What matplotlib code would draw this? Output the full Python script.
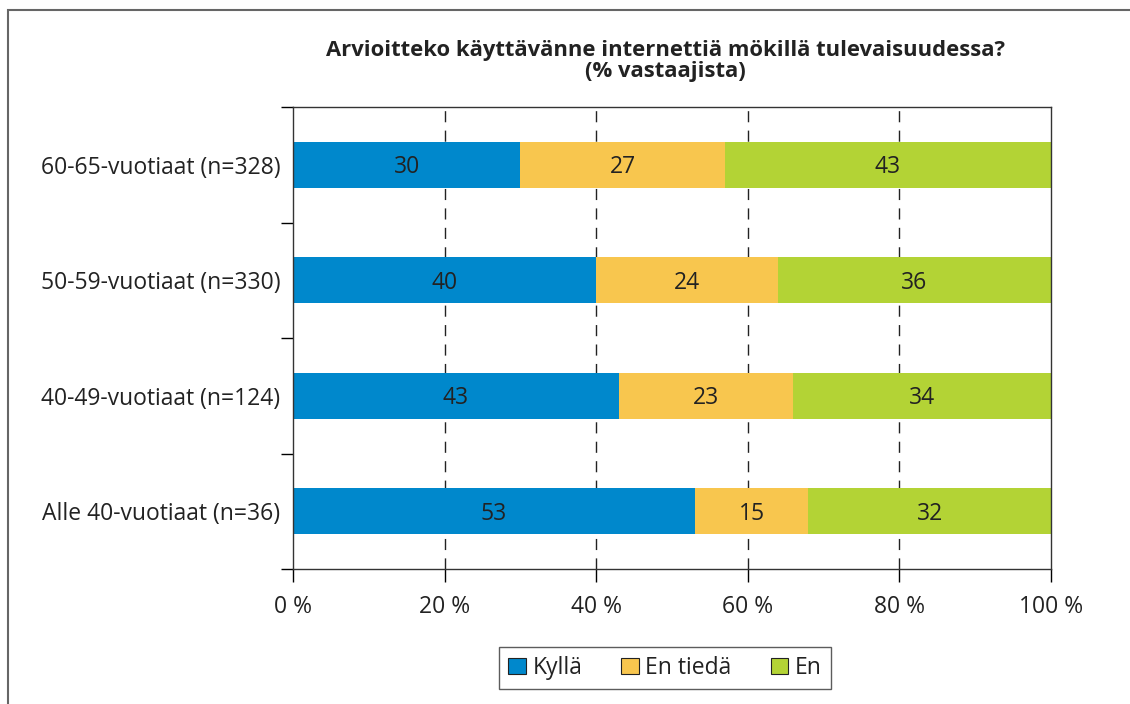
"""Stacked bar chart: internet use at the cottage by age group."""

import matplotlib
matplotlib.use('Agg')
import matplotlib.pyplot as plt
from matplotlib.patches import Rectangle

# Data
groups = ['Alle 40-vuotiaat (n=36)', '40-49-vuotiaat (n=124)',
          '50-59-vuotiaat (n=330)', '60-65-vuotiaat (n=328)']
kylla = [53, 43, 40, 30]
en_tieda = [15, 23, 24, 27]
en = [32, 34, 36, 43]
series = [('Kyllä', kylla, '#0088cc'),
          ('En tiedä', en_tieda, '#f8c64e'),
          ('En', en, '#b3d335')]
x_ticks = [0, 20, 40, 60, 80, 100]
title = 'Arvioitteko käyttävänne internettiä mökillä tulevaisuudessa?\n(% vastaajista)'

plt.rcParams['font.family'] = ['Open Sans', 'DejaVu Sans']
text_color = '#222222'
fs = 16.5


def main():
    fig = plt.figure(figsize=(11.3, 7.04), dpi=100)
    ax = fig.add_axes([293 / 1130, 1 - 569 / 704,
                       (1051 - 293) / 1130, (569 - 107) / 704])

    # Bars
    ypos = list(range(len(groups)))
    left = [0] * len(groups)
    for name, vals, color in series:
        bars = ax.barh(ypos, vals, left=left, height=0.4, color=color,
                       label=name, zorder=2)
        for bar, v in zip(bars, vals):
            ax.text(bar.get_x() + bar.get_width() / 2,
                    bar.get_y() + bar.get_height() / 2 - 0.02, str(v),
                    ha='center', va='center', fontsize=fs,
                    color=text_color, zorder=3)
        left = [a + b for a, b in zip(left, vals)]

    # Axes
    ax.set_xlim(0, 100)
    ax.set_ylim(-0.5, len(groups) - 0.5)
    ax.set_xticks(x_ticks)
    ax.set_xticklabels([f'{t} %' for t in x_ticks], fontsize=fs,
                       color=text_color)
    ax.set_yticks(ypos)
    ax.set_yticklabels(groups, fontsize=fs, color=text_color)
    ax.set_yticks([y - 0.5 for y in range(len(groups) + 1)], minor=True)
    ax.tick_params(axis='y', which='major', length=0, pad=9)
    ax.tick_params(axis='y', which='minor', length=9, width=1,
                   direction='out')
    ax.tick_params(axis='x', length=9, width=1, direction='out', pad=10)
    for g in x_ticks[1:-1]:
        ax.axvline(g, color='#222222', lw=1, ls=(0, (8, 6)), zorder=1)
    for spine in ax.spines.values():
        spine.set_color('#333333')
        spine.set_linewidth(1)

    # Title
    fig.text(665 / 1130, 1 - 61 / 704, title, ha='center', va='center',
             fontsize=15.8, fontweight='bold', color=text_color,
             linespacing=1.05)

    # Legend
    leg = fig.legend(loc='center', bbox_to_anchor=(665 / 1130, 1 - 668 / 704),
                     ncol=3, fontsize=fs, frameon=True, fancybox=False,
                     handlelength=0.75, handleheight=0.75, handletextpad=0.3,
                     columnspacing=1.7, borderpad=0.4)
    leg.get_frame().set_edgecolor('#333333')
    leg.get_frame().set_linewidth(1)
    for h in leg.legend_handles:
        h.set_edgecolor('#222222')
        h.set_linewidth(0.8)
    for t in leg.get_texts():
        t.set_color(text_color)

    # Outer frame
    fig.patches.append(Rectangle((8 / 1130, -0.1), 1.2, 1 - 10 / 704 + 0.1,
                                 transform=fig.transFigure, fill=False,
                                 edgecolor='#666666', lw=1.5))

    fig.savefig('out.png', dpi=100)
    plt.close(fig)


if __name__ == '__main__':
    main()
